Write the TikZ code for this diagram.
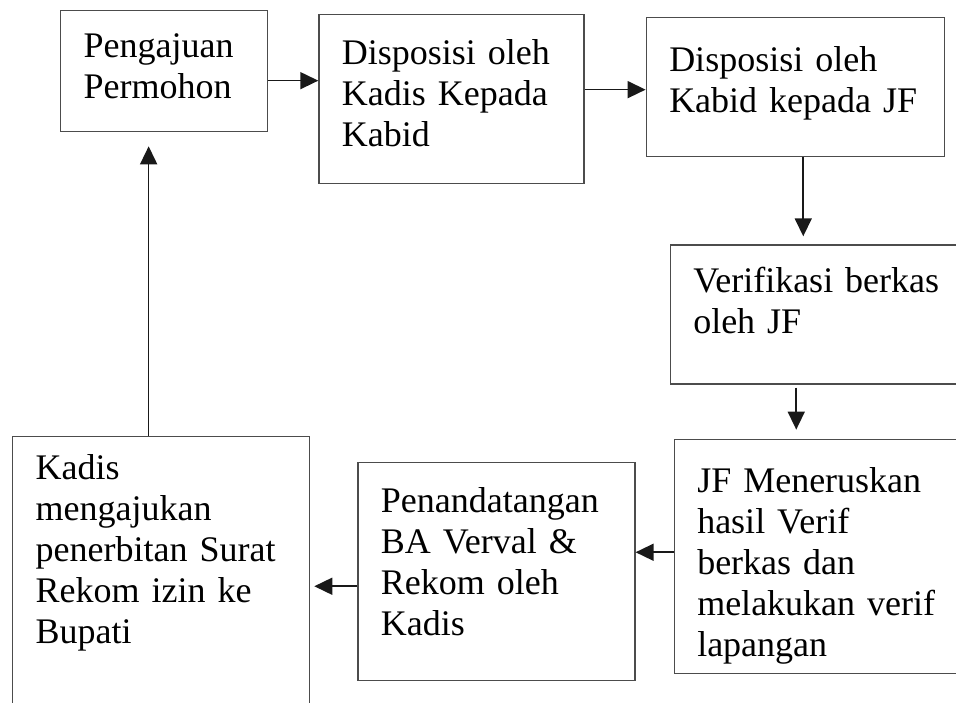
\documentclass[tikz,border=0pt]{standalone}
\usepackage{fontspec}
\setmainfont{Liberation Serif}
\usepackage{tikz}
\usetikzlibrary{arrows.meta,positioning}
\tikzset{%
	stepbox/.style = {draw=black!70, line width=1.3pt, rectangle, align=left, inner xsep=23pt, inner ysep=0pt, text height=48pt, font=\fontsize{36}{41}\selectfont}, % process box
	link/.style    = {line width=1.6pt, draw=black!90, ->}, % connector
}

\begin{document}
\begin{tikzpicture}[x=1pt,y=-1pt,>={Triangle[length=18pt,width=17pt]}]
	\useasboundingbox (0,0) rectangle (956,702);
	\node [stepbox, anchor=north west, text width=161pt, text height=47pt, text depth=74pt] (pp) at (60,10) {Pengajuan\\Permohon};
	\node [stepbox, below right=4pt and 50pt of pp.north east, text width=219pt, text height=50pt, text depth=119pt] (dk) {Disposisi oleh\\Kadis Kepada\\Kabid};
	\node [stepbox, below right=3pt and 61pt of dk.north east, text width=252pt, text height=54pt, text depth=85pt] (dkb) {Disposisi oleh\\Kabid kepada JF};
	\node [stepbox, below right=87pt and 24pt of dkb.south west, text width=264pt, text depth=91pt] (vb) {Verifikasi berkas\\oleh JF};
	\node [stepbox, below right=54pt and 4pt of vb.south west, text width=264pt, text height=53pt, text depth=181pt] (jf) {JF Meneruskan\\hasil Verif\\berkas dan\\melakukan verif\\lapangan};
	\node [stepbox, below left=23pt and 38pt of jf.north west, text width=231pt, text height=50pt, text depth=168pt] (pt) {Penandatangan\\BA Verval \&\\Rekom oleh\\Kadis};
	\node [stepbox, anchor=north west, text width=251pt, text height=43pt, text depth=247pt] (kd) at (12,436) {Kadis\\mengajukan\\penerbitan Surat\\Rekom izin ke\\Bupati};
	
	\draw[link] ([yshift=-9.5pt]pp.east) -- ([yshift=-9.5pt]pp.east -| dk.west);
	\draw[link] ([yshift=9.5pt]dk.east) -- ([yshift=9.5pt]dk.east -| dkb.west);
	\draw[link, shorten >=8pt] ([xshift=8pt]dkb.south) -- ([xshift=8pt]dkb.south |- vb.north);
	\draw[link, shorten <=3pt, shorten >=9pt] ([xshift=-29pt]vb.south) -- ([xshift=-29pt]vb.south |- jf.north);
	\draw[link] ([yshift=4pt]jf.west) -- ([yshift=4pt]jf.west -| pt.east);
	\draw[link, shorten >=4pt] ([yshift=-15pt]pt.west) -- ([yshift=-15pt]pt.west -| kd.east);
	\draw[link, shorten >=14pt] ([xshift=-12.5pt]kd.north) -- ([xshift=-12.5pt]kd.north |- pp.south);
\end{tikzpicture}
\end{document}
